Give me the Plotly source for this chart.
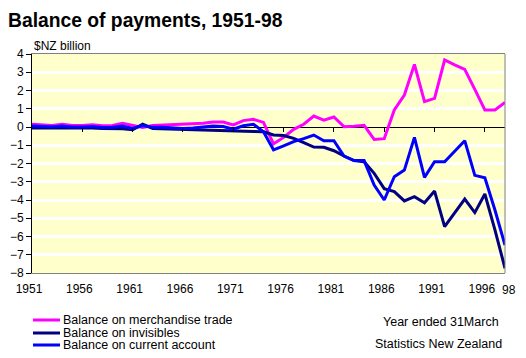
import plotly.graph_objects as go

years = list(range(1951, 1999))

merchandise = [0.15, 0.10, 0.08, 0.15, 0.08, 0.08, 0.12, 0.07, 0.08, 0.20,
               0.08, -0.02, 0.08, 0.10, 0.10, 0.12, 0.15, 0.20, 0.27, 0.27,
               0.11, 0.35, 0.42,
               0.25, -0.92, -0.57, -0.13, 0.15, 0.60, 0.37, 0.55, 0.02, 0.04,
               0.09, -0.68, -0.64, 0.93, 1.75, 3.43, 1.39, 1.57, 3.67, 3.40,
               3.16, 2.06, 0.93, 0.93, 1.35]

invisibles = [-0.05, -0.05, -0.03, -0.05, -0.05, -0.05, -0.05, -0.08, -0.08, -0.10,
              -0.15, 0.15, -0.08, -0.10, -0.10, -0.12, -0.12, -0.15, -0.18, -0.20,
              -0.22, -0.25, -0.25,
              -0.26, -0.44, -0.47, -0.62, -0.86, -1.10, -1.11, -1.30, -1.59, -1.84,
              -1.90, -2.54, -3.38, -3.54, -4.05, -3.82, -4.15, -3.51, -5.46, -4.73,
              -3.95, -4.69, -3.67, -5.64, -7.74]

current = [0.05, 0.02, 0.02, 0.05, 0.00, 0.00, 0.03, -0.03, -0.02, 0.05,
           -0.08, 0.08, -0.02, -0.02, -0.05, -0.08, -0.05, 0.00, 0.05, 0.03,
           -0.12, 0.07, 0.15,
           -0.26, -1.25, -1.04, -0.80, -0.64, -0.44, -0.75, -0.75, -1.59, -1.84,
           -1.84, -3.18, -4.00, -2.72, -2.36, -0.57, -2.76, -1.90, -1.90, -1.30,
           -0.75, -2.65, -2.78, -4.55, -6.47]

series_names = ["Balance on merchandise trade", "Balance on invisibles",
                "Balance on current account"]
series_colors = ["#FF00FF", "#000080", "#0000FF"]

x_tick_vals = [1951, 1956, 1961, 1966, 1971, 1976, 1981, 1986, 1991, 1996]
x_tick_text = ["1951", "1956", "1961", "1966", "1971", "1976", "1981", "1986",
               "1991", "1996"]
last_year_label = "98"
zero_tick_vals = [1956, 1961, 1966, 1971, 1976, 1981, 1986, 1991, 1996]
y_tick_vals = list(range(-8, 5))

FONT = "Arial, Liberation Sans, sans-serif"

fig = go.Figure()
data = [merchandise, invisibles, current]
for i, (name, vals, col) in enumerate(zip(series_names, data, series_colors)):
    fig.add_trace(go.Scatter(
        x=years, y=vals, mode="lines", name=name,
        line=dict(color=col, width=3),
        xaxis="x2" if i == 2 else "x",
        showlegend=False, hoverinfo="x+y"))

W, H = 526, 358
ml, mr, mt, mb = 32, 21, 54, 85
pw, ph = W - ml - mr, H - mt - mb

def px(xp):
    return (xp - ml) / pw

def py(yp):
    return (H - mb - yp) / ph

fig.update_layout(
    width=W, height=H,
    margin=dict(l=ml, r=mr, t=mt, b=mb, pad=0, autoexpand=False),
    paper_bgcolor="white",
    plot_bgcolor="#FFFFCC",
    font=dict(family=FONT, size=12, color="black"),
    title=dict(text="Balance of payments, 1951-98", x=8 / W, xanchor="left",
               xref="container", y=1 - 20 / H, yanchor="middle", yref="container",
               automargin=False, pad=dict(l=0, r=0, t=0, b=0),
               font=dict(family=FONT, size=19.3, color="black", weight="bold")),
    xaxis=dict(range=[1951, 1998], tickvals=x_tick_vals, ticktext=x_tick_text,
               tickangle=0, automargin=False, ticklabelshift=-3,
               showgrid=False, zeroline=False, showline=True, linecolor="#808080",
               linewidth=1, mirror=True, ticks="outside", ticklen=5,
               tickcolor="rgba(0,0,0,0)", tickfont=dict(size=12)),
    xaxis2=dict(range=[1951, 1998], overlaying="x", anchor="free",
                position=8 / 12, side="bottom", tickvals=zero_tick_vals,
                showticklabels=False, ticks="outside", ticklen=4, tickwidth=1,
                automargin=False,
                tickcolor="black", showgrid=False, zeroline=False, showline=False),
    yaxis=dict(range=[-8, 4], tickvals=y_tick_vals, showgrid=True, automargin=False,
               gridcolor="white", gridwidth=3, zeroline=True, zerolinecolor="black",
               zerolinewidth=1, showline=True, linecolor="black", linewidth=1,
               ticks="outside", ticklen=5, tickcolor="black", tickfont=dict(size=12)),
    showlegend=False,
)

# right border of plot frame
fig.add_shape(type="line", xref="paper", yref="paper", x0=1, x1=1, y0=0, y1=1,
              line=dict(color="#808080", width=1), layer="above")

# final year label ("98") sits just right of the last point
fig.add_annotation(text=last_year_label, xref="x", yref="paper", x=years[-1], y=0,
                   xanchor="center", yanchor="middle", yshift=-17, xshift=4,
                   showarrow=False, font=dict(size=12))

fig.add_annotation(text="$NZ billion", xref="paper", yref="paper", x=0, y=1,
                   xanchor="left", yanchor="bottom", showarrow=False, yshift=-1,
                   font=dict(size=12))

legend_rows = [320, 333, 345]
for name, col, yp in zip(series_names, series_colors, legend_rows):
    fig.add_shape(type="line", xref="paper", yref="paper", x0=px(33), x1=px(60),
                  y0=py(yp), y1=py(yp), line=dict(color=col, width=3))
    fig.add_annotation(text=name, xref="paper", yref="paper", x=px(62), y=py(yp),
                       xanchor="left", yanchor="middle", showarrow=False,
                       height=12, valign="middle", borderpad=0,
                       font=dict(size=12.5))

fig.add_annotation(text="Year ended 31March", xref="paper", yref="paper",
                   x=px(501), y=py(322), xanchor="right", yanchor="middle",
                   showarrow=False, font=dict(size=12.5))
fig.add_annotation(text="Statistics New Zealand", xref="paper", yref="paper",
                   x=px(504), y=py(344), xanchor="right", yanchor="middle",
                   showarrow=False, font=dict(size=12.5))

fig.write_html("out.html", post_script="document.body.style.margin='0px';",
               config={"displayModeBar": False})
